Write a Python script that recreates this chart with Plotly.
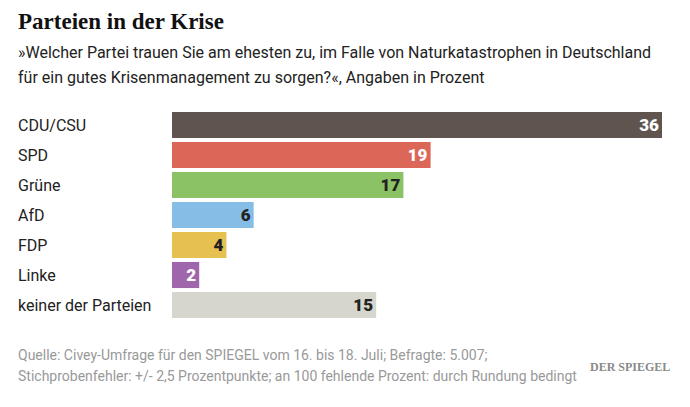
import plotly.graph_objects as go

categories = ["CDU/CSU", "SPD", "Grüne", "AfD", "FDP", "Linke", "keiner der Parteien"]
values = [36, 19, 17, 6, 4, 2, 15]
colors = ["#5f554e", "#dc6657", "#8cc266", "#86bde6", "#e6c152", "#a066ab", "#d6d6ce"]
text_colors = ["#ffffff", "#ffffff", "#222222", "#222222", "#222222", "#ffffff", "#222222"]

W, H = 690, 407
ml, mr, mt, mb = 172, 28, 110, 87
pw = W - ml - mr
ph = H - mt - mb

fig = go.Figure(go.Bar(
    x=values, y=categories, orientation="h",
    marker=dict(color=colors, line=dict(width=0)),
    text=[str(v) for v in values], textposition="inside", insidetextanchor="end",
    textfont=dict(family="Roboto", size=17, color=text_colors, weight=900),
    textangle=0, hoverinfo="skip",
))

fig.update_layout(
    width=W, height=H, margin=dict(l=ml, r=mr, t=mt, b=mb),
    paper_bgcolor="white", plot_bgcolor="white",
    bargap=0.13, showlegend=False,
    xaxis=dict(range=[0, 36], visible=False, fixedrange=True),
    yaxis=dict(autorange="reversed", visible=False, fixedrange=True),
    uniformtext=dict(minsize=8, mode="show"),
)

def px_x(p):
    return (p - ml) / pw

def px_y(p):
    return 1 - (p - mt) / ph

for c in categories:
    fig.add_annotation(x=px_x(16), xref="paper", y=c, yref="y", text=c,
                       xanchor="left", yanchor="middle", showarrow=False,
                       font=dict(family="Roboto", size=16, color="#222222"))

fig.add_annotation(x=px_x(16), y=px_y(22), xref="paper", yref="paper",
                   text="<b>Parteien in der Krise</b>", xanchor="left", yanchor="middle",
                   showarrow=False,
                   font=dict(family="Liberation Serif", size=23, color="#111111"))
fig.add_annotation(x=px_x(16), y=px_y(52), xref="paper", yref="paper",
                   text="»Welcher Partei trauen Sie am ehesten zu, im Falle von Naturkatastrophen in Deutschland",
                   xanchor="left", yanchor="middle", showarrow=False,
                   font=dict(family="Roboto", size=16, color="#222222"))
fig.add_annotation(x=px_x(16), y=px_y(77), xref="paper", yref="paper",
                   text="für ein gutes Krisenmanagement zu sorgen?«, Angaben in Prozent",
                   xanchor="left", yanchor="middle", showarrow=False,
                   font=dict(family="Roboto", size=16, color="#222222"))
fig.add_annotation(x=px_x(16), y=px_y(355), xref="paper", yref="paper",
                   text="Quelle: Civey-Umfrage für den SPIEGEL vom 16. bis 18. Juli; Befragte: 5.007;",
                   xanchor="left", yanchor="middle", showarrow=False,
                   font=dict(family="Roboto", size=14, color="#999999"))
fig.add_annotation(x=px_x(16), y=px_y(376), xref="paper", yref="paper",
                   text="Stichprobenfehler: +/- 2,5 Prozentpunkte; an 100 fehlende Prozent: durch Rundung bedingt",
                   xanchor="left", yanchor="middle", showarrow=False,
                   font=dict(family="Roboto", size=14, color="#999999"))
fig.add_annotation(x=px_x(672), y=px_y(367), xref="paper", yref="paper",
                   text="<b>DER SPIEGEL</b>", xanchor="right", yanchor="middle",
                   showarrow=False,
                   font=dict(family="Liberation Serif", size=12, color="#8a8a8a"))

fig.write_html("out.html")
